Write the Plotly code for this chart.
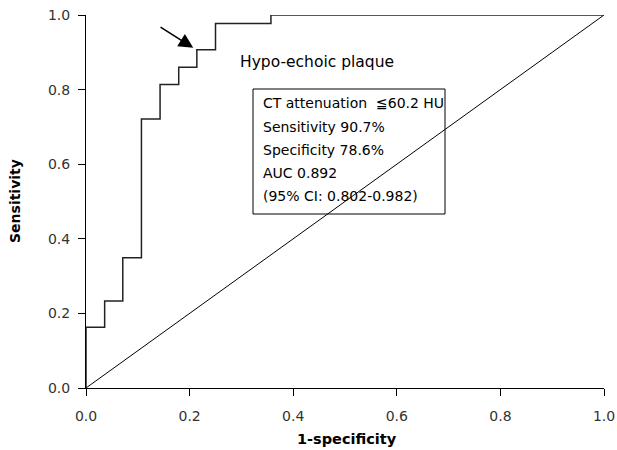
import plotly.graph_objects as go

# ROC curve (1-specificity, sensitivity)
fpr = [0.0, 0.0, 0.036, 0.036, 0.071, 0.071, 0.107, 0.107, 0.143, 0.143,
       0.179, 0.179, 0.214, 0.214, 0.250, 0.250, 0.357, 0.357, 1.0]
tpr = [0.0, 0.163, 0.163, 0.233, 0.233, 0.349, 0.349, 0.721, 0.721, 0.814,
       0.814, 0.860, 0.860, 0.907, 0.907, 0.977, 0.977, 1.0, 1.0]
ref_x = [0.0, 1.0]
ref_y = [0.0, 1.0]
tick_vals = [0.0, 0.2, 0.4, 0.6, 0.8, 1.0]
tick_text = ["0.0", "0.2", "0.4", "0.6", "0.8", "1.0"]
box_lines = ["CT attenuation  ≦60.2 HU", "Sensitivity 90.7%", "Specificity 78.6%",
             "AUC 0.892", "(95% CI: 0.802-0.982)"]
curve_label = "Hypo-echoic plaque"
x_title = "1-specificity"
y_title = "Sensitivity"

FONT = "DejaVu Sans"

fig = go.Figure()
fig.add_trace(go.Scatter(x=ref_x, y=ref_y, mode="lines",
                         line=dict(color="#000000", width=1), cliponaxis=False,
                         showlegend=False, hoverinfo="skip"))
fig.add_trace(go.Scatter(x=fpr, y=tpr, mode="lines",
                         line=dict(color="#222222", width=1.5), cliponaxis=False,
                         showlegend=False))

# plot area geometry helpers (paper coords)
L, R, T, B = 86, 13, 15, 62
W, H = 617, 450
pw, ph = W - L - R, H - T - B

def px_x(p):
    return (p - L) / pw

def px_y(p):
    return (H - B - p) / ph

fig.add_shape(type="rect", xref="paper", yref="paper",
              x0=px_x(253), x1=px_x(445), y0=px_y(214), y1=px_y(89),
              line=dict(color="#000000", width=1), fillcolor="rgba(255,255,255,0)")

line_y = [103, 127, 150, 173, 196]
for txt, yy in zip(box_lines, line_y):
    fig.add_annotation(x=px_x(261), y=px_y(yy), xref="paper", yref="paper",
                       text=txt, showarrow=False, xanchor="left", yanchor="middle",
                       font=dict(family=FONT, size=14, color="#000000"))

fig.add_annotation(x=px_x(238), y=px_y(62), xref="paper", yref="paper",
                   text=curve_label, showarrow=False, xanchor="left", yanchor="middle",
                   font=dict(family=FONT, size=15.5, color="#000000"))

# axis titles
fig.add_annotation(x=px_x(347), y=px_y(439), xref="paper", yref="paper",
                   text="<b>" + x_title + "</b>", showarrow=False,
                   xanchor="center", yanchor="middle",
                   font=dict(family=FONT, size=14.5, color="#000000"))
fig.add_annotation(x=px_x(15), y=px_y(201), xref="paper", yref="paper",
                   text="<b>" + y_title + "</b>", showarrow=False, textangle=-90,
                   xanchor="center", yanchor="middle",
                   font=dict(family=FONT, size=14, color="#000000"))

# arrow pointing at the cut-off
fig.add_annotation(x=0.207, y=0.912, ax=0.141, ay=0.970, xref="x", yref="y",
                   axref="x", ayref="y", text="", showarrow=True,
                   arrowhead=2, arrowsize=1.8, arrowwidth=1.6, arrowcolor="#000000")

axis_common = dict(range=[0, 1], tickvals=tick_vals, ticktext=tick_text,
                   showgrid=False, zeroline=False, showline=True,
                   linecolor="#000000", linewidth=1, ticks="outside",
                   ticklen=7, tickcolor="#000000", automargin=False,
                   tickfont=dict(family=FONT, size=14, color="#333333"))

fig.update_xaxes(**axis_common, ticklabelstandoff=8)
fig.update_yaxes(**axis_common, ticklabelstandoff=5)

fig.update_layout(width=W, height=H, margin=dict(l=L, r=R, t=T, b=B),
                  plot_bgcolor="#ffffff", paper_bgcolor="#ffffff",
                  font=dict(family=FONT, size=13, color="#000000"))

fig.write_html("out.html", config={"displayModeBar": False},
               post_script="document.body.style.margin='0';document.body.style.padding='0';")
